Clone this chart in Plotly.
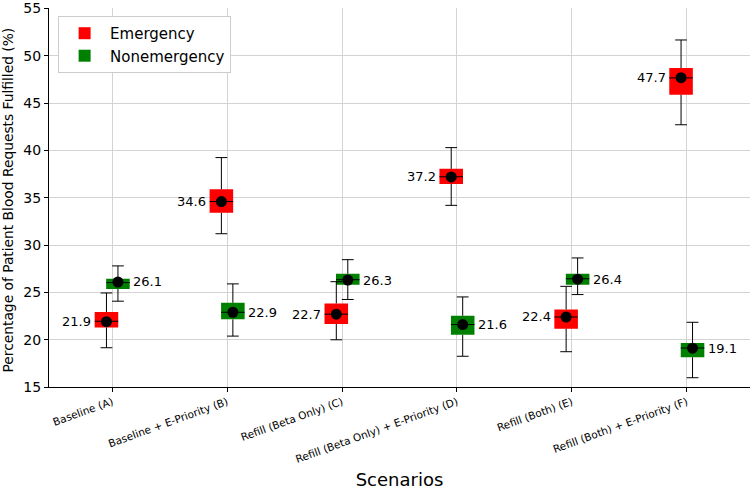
import plotly.graph_objects as go

categories = ["Baseline (A)", "Baseline + E-Priority (B)", "Refill (Beta Only) (C)",
              "Refill (Beta Only) + E-Priority (D)", "Refill (Both) (E)",
              "Refill (Both) + E-Priority (F)"]

# Emergency
em_q1 = [21.28, 33.41, 21.66, 36.47, 21.17, 45.90]
em_q3 = [22.92, 35.89, 23.83, 38.06, 23.20, 48.72]
em_med = [21.95, 34.60, 22.70, 37.22, 22.40, 47.67]
em_low = [19.15, 31.20, 19.99, 34.20, 18.73, 42.72]
em_up = [24.94, 39.25, 26.13, 40.30, 25.64, 51.68]
em_mean = [21.9, 34.6, 22.7, 37.2, 22.4, 47.7]

# Nonemergency
ne_q1 = [25.36, 22.15, 25.80, 20.51, 25.80, 18.14]
ne_q3 = [26.44, 23.90, 26.97, 22.53, 26.97, 19.64]
ne_med = [26.03, 22.90, 26.34, 21.60, 26.44, 19.12]
ne_low = [24.07, 20.38, 24.25, 18.25, 24.77, 15.98]
ne_up = [27.80, 25.90, 28.46, 24.52, 28.64, 21.84]
ne_mean = [26.1, 22.9, 26.3, 21.6, 26.4, 19.1]

y_ticks = [15, 20, 25, 30, 35, 40, 45, 50, 55]

FONT = "DejaVu Sans"
BOX_W = 0.205
CAP = BOX_W / 4
OFFSET = 0.05

fig = go.Figure()


def add_series(name, color, off, q1, q3, med, low, up, mean, side):
    xs = [i + off for i in range(len(categories))]
    fig.add_trace(go.Box(
        name=name, x=xs, q1=q1, q3=q3, median=med, lowerfence=low, upperfence=up,
        width=BOX_W, whiskerwidth=0.5, fillcolor=color,
        line=dict(color=color, width=0), boxpoints=False, hoverinfo="skip",
        showlegend=True,
    ))
    # black whiskers, caps and median
    lx, ly = [], []
    for x, a, b, m, lo, hi in zip(xs, q1, q3, med, low, up):
        lx += [x, x, None, x, x, None,
               x - CAP, x + CAP, None, x - CAP, x + CAP, None,
               x - BOX_W / 2, x + BOX_W / 2, None]
        ly += [b, hi, None, a, lo, None,
               hi, hi, None, lo, lo, None,
               m, m, None]
    fig.add_trace(go.Scatter(x=lx, y=ly, mode="lines", line=dict(color="black", width=1),
                             showlegend=False, hoverinfo="skip"))
    fig.add_trace(go.Scatter(x=xs, y=mean, mode="markers",
                             marker=dict(color="black", size=11),
                             showlegend=False, hoverinfo="skip"))
    for x, v in zip(xs, mean):
        fig.add_annotation(x=x, y=v, text=f"{v:.1f}", showarrow=False,
                           xanchor="right" if side == "left" else "left",
                           xshift=-13 if side == "left" else 13,
                           font=dict(family=FONT, size=13, color="black"))


add_series("Emergency", "red", -OFFSET, em_q1, em_q3, em_med, em_low, em_up, em_mean, "left")
add_series("Nonemergency", "green", OFFSET, ne_q1, ne_q3, ne_med, ne_low, ne_up, ne_mean, "right")

# y-axis title
fig.add_annotation(text="Percentage of Patient Blood Requests Fulfilled (%)",
                   xref="paper", yref="paper", x=0, y=0.5, xshift=-42, yshift=-3,
                   textangle=-90, showarrow=False, xanchor="center", yanchor="middle",
                   font=dict(family=FONT, size=13.8, color="black"))

fig.update_layout(
    width=750, height=490,
    margin=dict(l=49, r=0, t=8, b=103),
    plot_bgcolor="white", paper_bgcolor="white",
    font=dict(family=FONT, color="black"),
    showlegend=True,
    legend=dict(x=0.013, y=0.979, xanchor="left", yanchor="top",
                bgcolor="white", bordercolor="#cccccc", borderwidth=1,
                itemwidth=41,
                font=dict(family=FONT, size=15)),
)
fig.update_xaxes(
    range=[-0.55, 5.55], tickmode="array", tickvals=list(range(len(categories))),
    ticktext=categories, tickangle=-20, tickfont=dict(size=10.5),
    showgrid=True, gridcolor="#d3d3d3", gridwidth=1,
    showline=True, linecolor="black", linewidth=1, zeroline=False,
    ticks="outside", ticklen=4, tickcolor="black", automargin=False,
    title=dict(text="Scenarios", font=dict(size=18), standoff=11),
)
fig.update_yaxes(
    range=[15, 55.06], tickmode="array", tickvals=y_ticks,
    tickfont=dict(size=14), ticklabeloverflow="allow",
    showgrid=True, gridcolor="#d3d3d3", gridwidth=1,
    showline=True, linecolor="black", linewidth=1, zeroline=False,
    ticks="outside", ticklen=4, tickcolor="black", automargin=False,
)

fig.write_html("out.html", config={"displayModeBar": False},
               post_script="document.body.style.margin='0px';")
